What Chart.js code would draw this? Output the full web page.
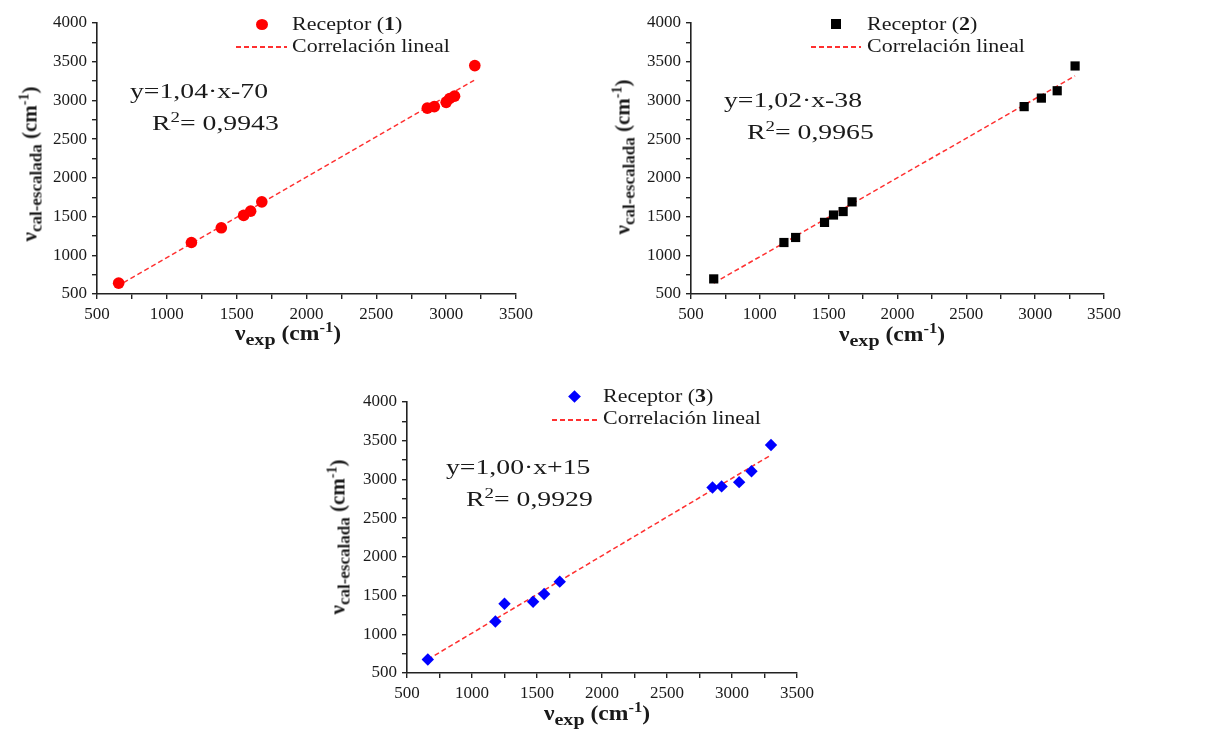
<!DOCTYPE html>
<html>
<head>
<meta charset="utf-8">
<script src="https://cdn.jsdelivr.net/npm/chart.js@4.4.1/dist/chart.umd.min.js"></script>
<style>
  body { margin: 0; background: #fff; width: 1210px; height: 730px; overflow: hidden; position: relative; font-family: "Liberation Serif", serif; color: #1a1a1a; }
  canvas { position: absolute; }
  .txt { position: absolute; white-space: nowrap; line-height: 1; transform-origin: left top; }
  .leg { font-size: 18px; transform: scaleX(1.22); }
  .eq { font-size: 22px; transform: scaleX(1.26); }
  .eq sup { font-size: 15px; vertical-align: 8px; line-height: 0; }
  .xt { font-size: 20px; font-weight: bold; transform: translateX(-50%) scaleX(1.18); transform-origin: center top; }
  .yt { font-size: 21px; font-weight: bold; transform: translate(-50%, -50%) rotate(-90deg); transform-origin: center center; }
  .xt sub, .yt sub { font-size: 17px; vertical-align: -5px; line-height: 0; }
  .xt sup, .yt sup { font-size: 14px; vertical-align: 8px; line-height: 0; }
  .mk { position: absolute; }
  .dash { position: absolute; height: 1.6px; background: repeating-linear-gradient(to right, #ff3030 0 5px, transparent 5px 8px); }
</style>
</head>
<body>
<canvas id="g1" width="541" height="330" style="left:0px;top:0px"></canvas>
<canvas id="g2" width="529" height="330" style="left:600px;top:0px"></canvas>
<canvas id="g3" width="502" height="339" style="left:320px;top:370px"></canvas>

<!-- painel 1 -->
<div class="mk" style="left:256px;top:19px;width:12px;height:11px;border-radius:50%;background:#ff0000"></div>
<div class="txt leg" style="left:292px;top:15px">Receptor (<b>1</b>)</div>
<div class="dash" style="left:236px;top:46px;width:51px"></div>
<div class="txt leg" style="left:292px;top:37px">Correlación lineal</div>
<div class="txt eq" style="left:130px;top:80px">y=1,04·x-70</div>
<div class="txt eq" style="left:152px;top:112px">R<sup>2</sup>= 0,9943</div>
<div class="txt xt" style="left:288px;top:323px">ν<sub>exp</sub> (cm<sup>-1</sup>)</div>
<div class="txt yt" style="left:30px;top:164px">ν<sub>cal-escalada</sub> (cm<sup>-1</sup>)</div>

<!-- painel 2 -->
<div class="mk" style="left:831px;top:19px;width:10px;height:10px;background:#000"></div>
<div class="txt leg" style="left:867px;top:15px">Receptor (<b>2</b>)</div>
<div class="dash" style="left:811px;top:46px;width:50px"></div>
<div class="txt leg" style="left:867px;top:37px">Correlación lineal</div>
<div class="txt eq" style="left:724px;top:89px">y=1,02·x-38</div>
<div class="txt eq" style="left:747px;top:121px">R<sup>2</sup>= 0,9965</div>
<div class="txt xt" style="left:892px;top:324px">ν<sub>exp</sub> (cm<sup>-1</sup>)</div>
<div class="txt yt" style="left:623px;top:157px">ν<sub>cal-escalada</sub> (cm<sup>-1</sup>)</div>

<!-- painel 3 -->
<div class="mk" style="left:570px;top:392px;width:9px;height:9px;background:#0000ff;transform:rotate(45deg)"></div>
<div class="txt leg" style="left:603px;top:387px">Receptor (<b>3</b>)</div>
<div class="dash" style="left:552px;top:419px;width:47px"></div>
<div class="txt leg" style="left:603px;top:409px">Correlación lineal</div>
<div class="txt eq" style="left:446px;top:456px">y=1,00·x+15</div>
<div class="txt eq" style="left:466px;top:488px">R<sup>2</sup>= 0,9929</div>
<div class="txt xt" style="left:597px;top:703px">ν<sub>exp</sub> (cm<sup>-1</sup>)</div>
<div class="txt yt" style="left:338px;top:537px">ν<sub>cal-escalada</sub> (cm<sup>-1</sup>)</div>

<script>
// eixos
const eixoMin = { x: 500, y: 500 };
const eixoMax = { x: 3500, y: 4000 };

// Receptor (1)
const rec1X = [655, 1176, 1390, 1550, 1600, 1680, 2865, 2915, 3000, 3025, 3060, 3205];
const rec1Y = [640, 1165, 1355, 1515, 1570, 1690, 2900, 2920, 2975, 3025, 3055, 3450];
const fit1X = [690, 3200];
const fit1Y = [648, 3260];

// Receptor (2)
const rec2X = [665, 1175, 1260, 1470, 1535, 1605, 1670, 2920, 3045, 3160, 3290];
const rec2Y = [695, 1165, 1230, 1425, 1520, 1565, 1690, 2920, 3030, 3125, 3445];
const fit2X = [665, 3290];
const fit2Y = [640, 3318];

// Receptor (3)
const rec3X = [660, 1180, 1250, 1470, 1555, 1675, 2850, 2920, 3055, 3150, 3300];
const rec3Y = [675, 1165, 1395, 1420, 1520, 1680, 2895, 2910, 2965, 3105, 3445];
const fit3X = [660, 3290];
const fit3Y = [675, 3305];

function pares(xs, ys) {
  return xs.map((x, i) => ({ x: x, y: ys[i] }));
}

function eixo(min, max, larguraFixa, alturaFixa) {
  return {
    type: "linear",
    min: min,
    max: max,
    border: { display: true, color: "#222", width: 1.6 },
    grid: { display: true, drawOnChartArea: false, drawTicks: true, tickLength: 5, color: "#222", lineWidth: 1.4 },
    ticks: {
      stepSize: 250,
      autoSkip: false,
      maxRotation: 0,
      padding: 5,
      color: "#1a1a1a",
      font: { family: "Liberation Serif", size: 17 },
      callback: (v) => (v % 500 === 0 ? v : "")
    },
    afterFit: (s) => {
      if (larguraFixa) s.width = larguraFixa;
      if (alturaFixa) s.height = alturaFixa;
    }
  };
}

function criarGrafico(id, pontosX, pontosY, retaX, retaY, estilo, cor, raio, larguraY, topo) {
  const ctx = document.getElementById(id).getContext("2d");
  return new Chart(ctx, {
    type: "scatter",
    data: {
      datasets: [
        {
          label: "Receptor",
          data: pares(pontosX, pontosY),
          pointStyle: estilo,
          pointRadius: raio,
          backgroundColor: cor,
          borderColor: cor,
          borderWidth: 0
        },
        {
          type: "line",
          label: "Correlación lineal",
          data: pares(retaX, retaY),
          showLine: true,
          pointRadius: 0,
          borderColor: "#ff3030",
          borderWidth: 1.5,
          borderDash: [5, 3],
          fill: false
        }
      ]
    },
    options: {
      responsive: false,
      animation: false,
      devicePixelRatio: 1,
      layout: { padding: { top: topo, right: 25, left: 0, bottom: 0 } },
      plugins: { legend: { display: false }, tooltip: { enabled: false } },
      scales: {
        x: eixo(eixoMin.x, eixoMax.x, null, 36),
        y: eixo(eixoMin.y, eixoMax.y, larguraY, null)
      }
    }
  });
}

criarGrafico("g1", rec1X, rec1Y, fit1X, fit1Y, "circle", "#ff0000", 5.8, 97, 23);
criarGrafico("g2", rec2X, rec2Y, fit2X, fit2Y, "rect", "#000000", 6.5, 91, 23);
criarGrafico("g3", rec3X, rec3Y, fit3X, fit3Y, "rectRot", "#0000ff", 6.2, 87, 32);
</script>
</body>
</html>
